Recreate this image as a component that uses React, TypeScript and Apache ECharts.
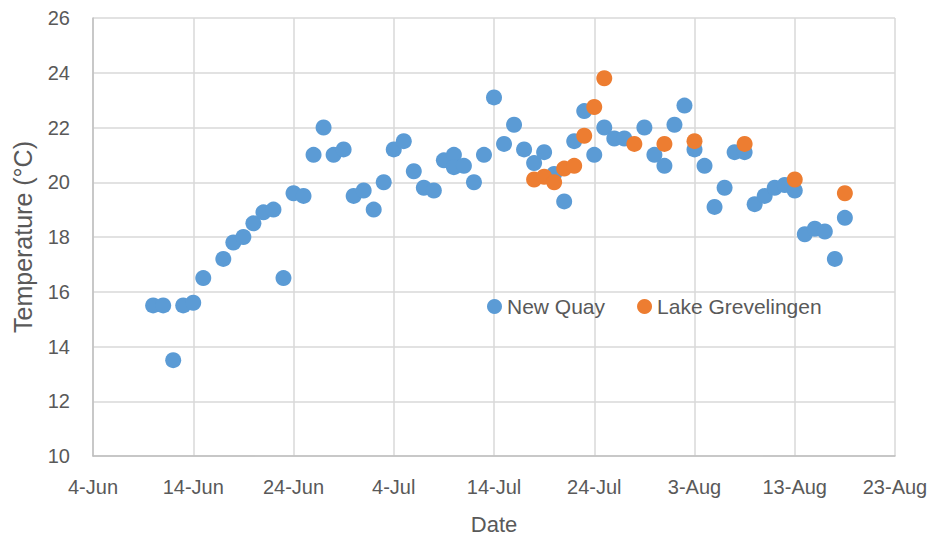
import React, { useEffect, useRef } from "react";
import * as echarts from "echarts";

const BASE_DATE = "2019-06-04";
const X_TICK_STEP_DAYS = 10;
const X_RANGE_DAYS = 80;
const Y_MIN = 10;
const Y_MAX = 26;
const Y_STEP = 2;

const newQuayDates = [
  "06-10", "06-11", "06-12", "06-13", "06-14", "06-15", "06-17", "06-18", "06-19", "06-20",
  "06-21", "06-22", "06-23", "06-24", "06-25", "06-26", "06-27", "06-28", "06-29", "06-30",
  "07-01", "07-02", "07-03", "07-04", "07-05", "07-06", "07-07", "07-08", "07-09", "07-10",
  "07-10", "07-11", "07-12", "07-13", "07-14", "07-15", "07-16", "07-17", "07-18", "07-19",
  "07-20", "07-21", "07-22", "07-23", "07-24", "07-25", "07-26", "07-27", "07-29", "07-30",
  "07-31", "08-01", "08-02", "08-03", "08-04", "08-05", "08-06", "08-07", "08-08", "08-09",
  "08-10", "08-11", "08-12", "08-13", "08-14", "08-15", "08-16", "08-17", "08-18",
];
const newQuayTemps = [
  15.5, 15.5, 13.5, 15.5, 15.6, 16.5, 17.2, 17.8, 18.0, 18.5,
  18.9, 19.0, 16.5, 19.6, 19.5, 21.0, 22.0, 21.0, 21.2, 19.5,
  19.7, 19.0, 20.0, 21.2, 21.5, 20.4, 19.8, 19.7, 20.8, 21.0,
  20.55, 20.6, 20.0, 21.0, 23.1, 21.4, 22.1, 21.2, 20.7, 21.1,
  20.3, 19.3, 21.5, 22.6, 21.0, 22.0, 21.6, 21.6, 22.0, 21.0,
  20.6, 22.1, 22.8, 21.2, 20.6, 19.1, 19.8, 21.1, 21.1, 19.2,
  19.5, 19.8, 19.9, 19.7, 18.1, 18.3, 18.2, 17.2, 18.7,
];

const greveDates = [
  "07-18", "07-19", "07-20", "07-21", "07-22", "07-23", "07-24", "07-25",
  "07-28", "07-31", "08-03", "08-08", "08-13", "08-18",
];
const greveTemps = [
  20.1, 20.2, 20.0, 20.5, 20.6, 21.7, 22.75, 23.8,
  21.4, 21.4, 21.5, 21.4, 20.1, 19.6,
];

const MONTHS = ["Jan", "Feb", "Mar", "Apr", "May", "Jun", "Jul", "Aug", "Sep", "Oct", "Nov", "Dec"];
const DAY_MS = 86400000;
const baseMs = Date.parse(BASE_DATE + "T00:00:00Z");

function dayOffset(md: string): number {
  const ms = Date.parse("2019-" + md + "T00:00:00Z");
  return Math.round((ms - baseMs) / DAY_MS);
}
function dayLabel(v: number): string {
  const d = new Date(baseMs + v * DAY_MS);
  return d.getUTCDate() + "-" + MONTHS[d.getUTCMonth()];
}

const FONT = "'Liberation Sans', Arial, sans-serif";
const TEXT = "#595959";

export default function App() {
  const ref = useRef<HTMLDivElement>(null);
  useEffect(() => {
    if (!ref.current) return;
    const chart = echarts.init(ref.current, undefined, { renderer: "svg" });
    chart.setOption({
      animation: false,
      backgroundColor: "#ffffff",
      textStyle: { fontFamily: FONT },
      grid: { left: 93, right: 38, top: 18, bottom: 86, containLabel: false },
      legend: {
        left: 482,
        top: 291,
        itemWidth: 15,
        itemHeight: 15,
        itemGap: 32,
        icon: "circle",
        textStyle: { fontSize: 21, color: TEXT, fontFamily: FONT },
        data: ["New Quay", "Lake Grevelingen"],
      },
      xAxis: {
        type: "value",
        min: 0,
        max: X_RANGE_DAYS,
        interval: X_TICK_STEP_DAYS,
        name: "Date",
        nameLocation: "middle",
        nameGap: 57,
        nameTextStyle: { fontSize: 22, color: TEXT, fontFamily: FONT },
        axisLine: { show: true, lineStyle: { color: "#bfbfbf", width: 1.5 } },
        axisTick: { show: false },
        axisLabel: {
          margin: 21,
          fontSize: 20,
          color: TEXT,
          fontFamily: FONT,
          formatter: (v: number) => dayLabel(v),
        },
        splitLine: { show: true, lineStyle: { color: "#d9d9d9", width: 1.5 } },
      },
      yAxis: {
        type: "value",
        min: Y_MIN,
        max: Y_MAX,
        interval: Y_STEP,
        name: "Temperature (°C)",
        nameLocation: "middle",
        nameGap: 58,
        nameTextStyle: { fontSize: 25, color: TEXT, fontFamily: FONT },
        axisLine: { show: true, lineStyle: { color: "#bfbfbf", width: 1.5 } },
        axisTick: { show: false },
        axisLabel: { margin: 23, fontSize: 20, color: TEXT, fontFamily: FONT },
        splitLine: { show: true, lineStyle: { color: "#d9d9d9", width: 1.5 } },
      },
      series: [
        {
          name: "New Quay",
          type: "scatter",
          symbol: "circle",
          symbolSize: 16,
          itemStyle: { color: "#5B9BD5", opacity: 1 },
          data: newQuayDates.map((d, i) => [dayOffset(d), newQuayTemps[i]]),
          z: 2,
        },
        {
          name: "Lake Grevelingen",
          type: "scatter",
          symbol: "circle",
          symbolSize: 16,
          itemStyle: { color: "#ED7D31", opacity: 1 },
          data: greveDates.map((d, i) => [dayOffset(d), greveTemps[i]]),
          z: 3,
        },
      ],
    });
    return () => chart.dispose();
  }, []);
  return <div ref={ref} style={{ width: 933, height: 542, position: "absolute", left: 0, top: 0 }} />;
}
